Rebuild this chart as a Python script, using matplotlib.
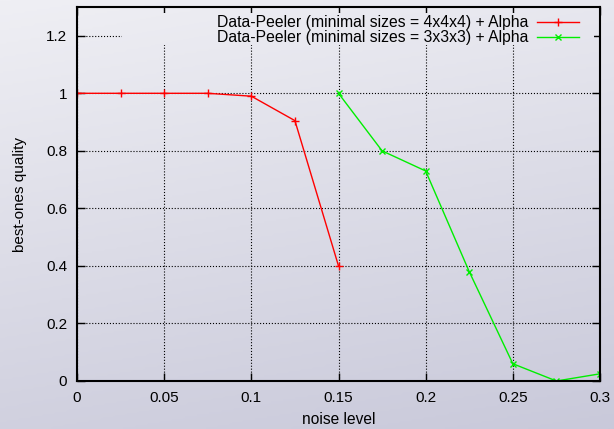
import numpy as np
import matplotlib.pyplot as plt
from matplotlib.colors import LinearSegmentedColormap

noise_red = [0, 0.025, 0.05, 0.075, 0.1, 0.125, 0.15]
quality_red = [1.0, 1.0, 1.0, 1.0, 0.99, 0.905, 0.40]
noise_green = [0.15, 0.175, 0.2, 0.225, 0.25, 0.275, 0.3]
quality_green = [1.0, 0.80, 0.73, 0.38, 0.06, 0.0, 0.025]

label_red = 'Data-Peeler (minimal sizes = 4x4x4) + Alpha'
label_green = 'Data-Peeler (minimal sizes = 3x3x3) + Alpha'

plt.rcParams['font.family'] = ['Liberation Sans', 'DejaVu Sans']
plt.rcParams['font.size'] = 11

fig = plt.figure(figsize=(6.14, 4.29), dpi=100)
cmap = LinearSegmentedColormap.from_list('bg', ['#efeff4', '#c9c9da'])


def shade(x0, x1, y0, y1, n=100):
    # gradient value for a region given in figure fractions (y from top)
    yy, xx = np.mgrid[y0:y1:n * 1j, x0:x1:n * 1j]
    return 0.8 * yy + 0.2 * xx


# gradient background like the slide
bg = fig.add_axes([0, 0, 1, 1], zorder=-10)
bg.imshow(shade(0, 1, 0, 1, 200), cmap=cmap, vmin=0, vmax=1, aspect='auto', extent=[0, 1, 1, 0])
bg.axis('off')

left, right, bottom, top = 77 / 614, 600 / 614, 48 / 429, 422 / 429
ax = fig.add_axes([left, bottom, right - left, top - bottom])
ax.patch.set_alpha(0)

ax.plot(noise_red, quality_red, color='#ff0000', lw=1, marker='+', ms=6, mew=1, label=label_red)
ax.plot(noise_green, quality_green, color='#00ee00', lw=1, marker='x', ms=5, mew=1, label=label_green)

ax.set_xticks([0, 0.05, 0.1, 0.15, 0.2, 0.25, 0.3])
ax.set_xticklabels(['0', '0.05', '0.1', '0.15', '0.2', '0.25', '0.3'])
ax.set_yticks([0, 0.2, 0.4, 0.6, 0.8, 1.0, 1.2])
ax.set_yticklabels(['0', '0.2', '0.4', '0.6', '0.8', '1', '1.2'])
ax.tick_params(direction='in', length=6, width=1, top=True, right=True, pad=7, labelsize=11)
ax.grid(True, linestyle=':', color='black', lw=0.8)
for s in ax.spines.values():
    s.set_linewidth(1.5)

# key area blanks the grid, as gnuplot does (leave the tick marks visible)
kx0, kx1, ky0, ky1 = 122 / 614, 594 / 614, 13 / 429, 45 / 429
ax.imshow(shade(kx0, kx1, ky0, ky1), cmap=cmap, vmin=0, vmax=1, aspect='auto', zorder=1.7,
          extent=[0.3 * (kx0 - left) / (right - left), 0.3 * (kx1 - left) / (right - left),
                  1.3 * (1 - ky1 - bottom) / (top - bottom), 1.3 * (1 - ky0 - bottom) / (top - bottom)])

ax.set_xlim(0, 0.3)
ax.set_ylim(0, 1.3)

ax.set_xlabel('noise level', fontsize=11.2, labelpad=5)
ax.set_ylabel('best-ones quality', fontsize=11, labelpad=14)

leg = ax.legend(loc='upper right', bbox_to_anchor=(0.9675, 0.988), borderaxespad=0,
                markerfirst=False, frameon=False, handlelength=2.65, borderpad=0.25,
                labelspacing=0.0, fontsize=11.3, handletextpad=0.6)
for t in leg.get_texts():
    t.set_ha('right')

fig.savefig('out.png', dpi=100)
